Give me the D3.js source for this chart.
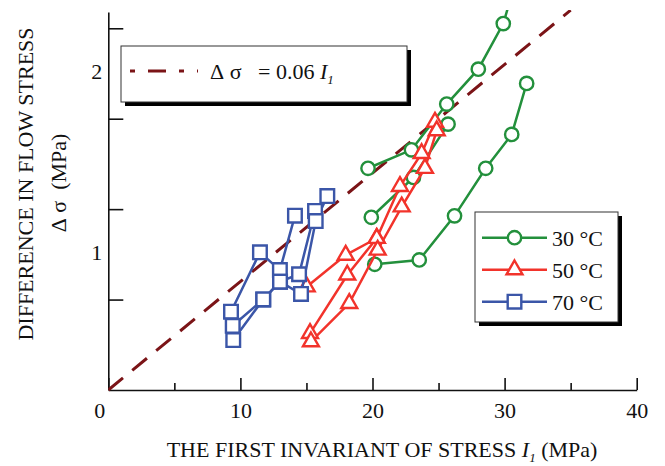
<!DOCTYPE html>
<html>
<head>
<meta charset="utf-8">
<script src="https://cdn.jsdelivr.net/npm/d3@7"></script>
<style>
	body { margin: 0; background: #fff; }
	svg text { font-family: "Liberation Serif", "Times New Roman", serif; fill: #111; }
</style>
</head>
<body>
<svg width="665" height="466" xml:space="preserve"></svg>
<script>
// runs: [ I1 (MPa), delta sigma (MPa) ]
const run30a = [ [19.66,1.226], [22.95,1.328], [25.62,1.581], [28.01,1.774], [29.90,2.026], [30.6,2.2] ];
const run30b = [ [19.91,0.955], [23.10,1.175], [25.72,1.470] ];
const run30c = [ [20.17,0.695], [23.54,0.719], [26.21,0.963], [28.57,1.226], [30.54,1.413], [31.67,1.695] ];

const run50a = [ [15.02,0.571], [17.97,0.746], [20.32,0.839] ];
const run50b = [ [15.27,0.313], [18.09,0.636], [20.32,0.839], [22.08,1.126], [23.72,1.308], [24.73,1.481] ];
const run50c = [ [15.34,0.267], [18.24,0.479], [20.39,0.774], [22.21,1.013], [23.97,1.226], [24.86,1.434] ];

const run70a = [ [9.29,0.433], [11.48,0.761], [12.99,0.663], [14.13,0.964] ];
const run70b = [ [9.42,0.355], [11.73,0.501], [13.00,0.599], [14.44,0.640], [15.65,0.990] ];
const run70c = [ [9.46,0.276], [11.73,0.501], [13.00,0.599], [14.59,0.531], [15.70,0.934], [16.58,1.072] ];

const seriesNames = [ "30\u00a0°C", "50\u00a0°C", "70\u00a0°C" ];
const seriesRuns = [ [run30a, run30b, run30c], [run50a, run50b, run50c], [run70a, run70b, run70c] ];

const fitSlope = 0.06;
const fitRange = [ 0, 35 ];

const xMajor = [ 0, 10, 20, 30, 40 ];
const xMinor = [ 5, 15, 25, 35 ];
const yTicks = [ 0.5, 1, 1.5, 2 ];
const yLabelled = [ 1, 2 ];

// styles
const colors = [ "#23903c", "#f2332b", "#3b56a8" ];
const symbols = [ d3.symbolCircle, d3.symbolTriangle, d3.symbolSquare ];
const symSize = [ 140, 110, 185 ];
const fitColor = "#7b1417";
const nb = "\u00a0";

const svg = d3.select( "svg" );
const x = d3.scaleLinear().domain( [ 0, 40 ] ).range( [ 108.3, 636.7 ] );
const y = d3.scaleLinear().domain( [ 0, 2.09 ] ).range( [ 390, 12 ] );

svg.append( "defs" ).append( "clipPath" ).attr( "id", "plot" )
	.append( "rect" )
	.attr( "x", x(0) ).attr( "y", 10 )
	.attr( "width", x(40) - x(0) + 10 ).attr( "height", y(0) );

// axes
let axX = svg.append( "g" ).attr( "transform", "translate(0," + y(0) + ")" );
axX.call( d3.axisBottom( x ).tickValues( xMajor ).tickSize( -12 ).tickSizeOuter( 0 ).tickPadding( 12 ) );
axX.append( "g" ).call( d3.axisBottom( x ).tickValues( xMinor ).tickSize( -7 ).tickFormat( "" ) )
	.select( ".domain" ).remove();
axX.selectAll( "text" ).style( "font-size", "22px" ).attr( "fill", "#111" )
	.attr( "dx", d => d === 0 ? "-9" : null );

let axY = svg.append( "g" ).attr( "transform", "translate(" + x(0) + ",0)" );
axY.call( d3.axisLeft( y ).tickValues( yTicks ).tickSize( -15 ).tickSizeOuter( 0 ).tickPadding( 6 )
	.tickFormat( d => yLabelled.includes( d ) ? d : "" ) );
axY.selectAll( "text" ).style( "font-size", "22px" ).attr( "fill", "#111" )
	.attr( "transform", "translate(0,43)" );
svg.selectAll( ".domain, .tick line" ).attr( "stroke", "#111" ).attr( "stroke-width", 1.6 );

// axis titles
let tx = svg.append( "text" ).attr( "x", 382 ).attr( "y", 456.5 )
	.attr( "text-anchor", "middle" ).style( "font-size", "22px" ).attr( "fill", "#222" );
tx.append( "tspan" ).text( "THE FIRST INVARIANT OF STRESS" + nb );
tx.append( "tspan" ).style( "font-style", "italic" ).text( "I" );
tx.append( "tspan" ).style( "font-style", "italic" ).style( "font-size", "13px" ).attr( "dy", 5 ).text( "1" );
tx.append( "tspan" ).attr( "dy", -5 ).text( nb + "(MPa)" );

svg.append( "text" ).attr( "transform", "translate(33,184) rotate(-90)" )
	.attr( "text-anchor", "middle" ).style( "font-size", "22px" ).attr( "fill", "#222" )
	.text( "DIFFERENCE IN FLOW STRESS" );
svg.append( "text" ).attr( "transform", "translate(66,183) rotate(-90)" )
	.attr( "text-anchor", "middle" ).style( "font-size", "22px" ).attr( "fill", "#222" )
	.text( "Δ" + nb + "σ" + nb + nb + "(MPa)" );

// plot
let plot = svg.append( "g" ).attr( "clip-path", "url(#plot)" );

plot.append( "line" )
	.attr( "x1", x( fitRange[0] ) ).attr( "y1", y( fitSlope * fitRange[0] ) )
	.attr( "x2", x( fitRange[1] ) ).attr( "y2", y( fitSlope * fitRange[1] ) )
	.attr( "stroke", fitColor ).attr( "stroke-width", 3 ).attr( "stroke-dasharray", "19 12" );

let line = d3.line().x( d => x( d[0] ) ).y( d => y( d[1] ) );

seriesRuns.forEach( ( runs, s ) => {
	let g = plot.append( "g" ).attr( "class", "series" );
	runs.forEach( run => {
		g.append( "path" ).attr( "d", line( run ) )
			.attr( "fill", "none" ).attr( "stroke", colors[s] ).attr( "stroke-width", 2.5 );
	});
	runs.forEach( run => {
		g.selectAll( null ).data( run ).enter().append( "path" )
			.attr( "d", d3.symbol( symbols[s], symSize[s] ) )
			.attr( "transform", d => "translate(" + x( d[0] ) + "," + y( d[1] ) + ")" )
			.attr( "fill", "#fff" ).attr( "stroke", colors[s] ).attr( "stroke-width", 2.4 );
	});
});

// boxed legends with drop shadow
function box ( bx, by, bw, bh ) {
	svg.append( "rect" ).attr( "x", bx + 4 ).attr( "y", by + 4 ).attr( "width", bw ).attr( "height", bh ).attr( "fill", "#000" );
	svg.append( "rect" ).attr( "x", bx ).attr( "y", by ).attr( "width", bw ).attr( "height", bh )
		.attr( "fill", "#fff" ).attr( "stroke", "#333" ).attr( "stroke-width", 1 );
}

box( 121, 46, 286, 56 );
svg.append( "line" ).attr( "x1", 130 ).attr( "x2", 198 ).attr( "y1", 71 ).attr( "y2", 71 )
	.attr( "stroke", fitColor ).attr( "stroke-width", 3 ).attr( "stroke-dasharray", "5 13 18 13" );
let fx = svg.append( "text" ).attr( "x", 210 ).attr( "y", 78.5 ).style( "font-size", "22px" ).attr( "fill", "#222" );
fx.append( "tspan" ).text( "Δ" + nb + "σ" + nb + nb + nb + "=" + nb + fitSlope.toFixed( 2 ) + nb );
fx.append( "tspan" ).style( "font-style", "italic" ).text( "I" );
fx.append( "tspan" ).style( "font-style", "italic" ).style( "font-size", "13px" ).attr( "dy", 5 ).text( "1" );

box( 475, 212, 143, 110 );
seriesNames.forEach( ( name, s ) => {
	let ly = 237.7 + s * 32;
	svg.append( "line" ).attr( "x1", 482 ).attr( "x2", 547 ).attr( "y1", ly ).attr( "y2", ly )
		.attr( "stroke", colors[s] ).attr( "stroke-width", 2.5 );
	svg.append( "path" ).attr( "d", d3.symbol( symbols[s], symSize[s] ) )
		.attr( "transform", "translate(514.5," + ly + ")" )
		.attr( "fill", "#fff" ).attr( "stroke", colors[s] ).attr( "stroke-width", 2.4 );
	svg.append( "text" ).attr( "x", 552 ).attr( "y", ly + 8 ).style( "font-size", "22px" ).attr( "fill", "#222" )
		.text( name );
});
</script>
</body>
</html>
